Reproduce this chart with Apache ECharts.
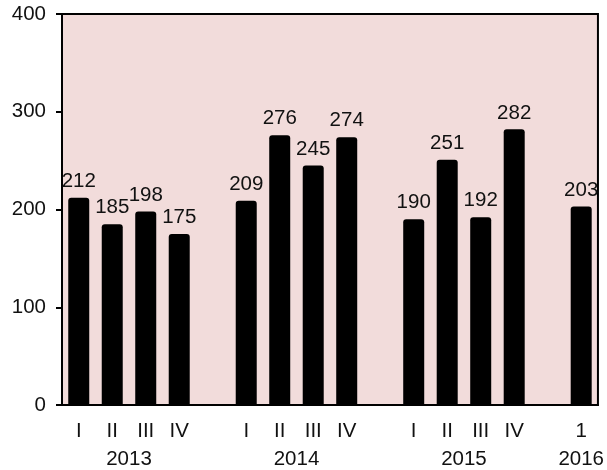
<!DOCTYPE html>
<html>
<head>
<meta charset="utf-8">
<script src="https://cdn.jsdelivr.net/npm/echarts@6/dist/echarts.min.js"></script>
<style>html,body{margin:0;padding:0;background:#fff}#c{width:607px;height:470px}</style>
</head>
<body>
<div id="c"></div>
<script>
const quarters = ['I','II','III','IV','','I','II','III','IV','','I','II','III','IV','','1'];
const values = [212,185,198,175,null,209,276,245,274,null,190,251,192,282,null,203];
const yearLabels = ['', '', '', '', '2013', '', '', '', '', '', '', '', '', '', '2014', '', '', '', '', '', '', '', '', '', '2015', '', '', '', '', '', '', '2016', ''];
const yTicks = {min: 0, max: 400, interval: 100};

const font = 'Liberation Sans, Arial, sans-serif';
const fs = 20.5;
const chart = echarts.init(document.getElementById('c'));
chart.setOption({
  animation: false,
  grid: {left: 62, right: 9, top: 14, bottom: 65, show: true, backgroundColor: '#f2dcdb', borderColor: '#000', borderWidth: 2},
  xAxis: [{
    type: 'category', data: quarters, position: 'bottom',
    axisLine: {show: true, lineStyle: {color: '#000', width: 2}},
    axisTick: {show: false},
    axisLabel: {interval: 0, margin: 16, fontSize: fs, color: '#111', fontFamily: font}
  }, {
    type: 'category', data: yearLabels, boundaryGap: false, position: 'bottom', offset: 28,
    axisLine: {show: false}, axisTick: {show: false}, splitLine: {show: false},
    axisLabel: {interval: 0, margin: 16, fontSize: fs, color: '#111', fontFamily: font}
  }],
  yAxis: {
    type: 'value', min: yTicks.min, max: yTicks.max, interval: yTicks.interval,
    axisLine: {show: true, lineStyle: {color: '#000', width: 2}},
    axisTick: {show: true, length: 6, lineStyle: {color: '#000', width: 2}},
    splitLine: {show: false},
    axisLabel: {margin: 16, fontSize: fs, color: '#111', fontFamily: font}
  },
  series: [{
    type: 'bar', data: values, xAxisIndex: 0, barWidth: 21,
    itemStyle: {color: '#000', borderRadius: [3,3,0,0]},
    label: {show: true, position: 'top', distance: 6, fontSize: fs, color: '#111', fontFamily: font}
  }]
});
</script>
</body>
</html>
